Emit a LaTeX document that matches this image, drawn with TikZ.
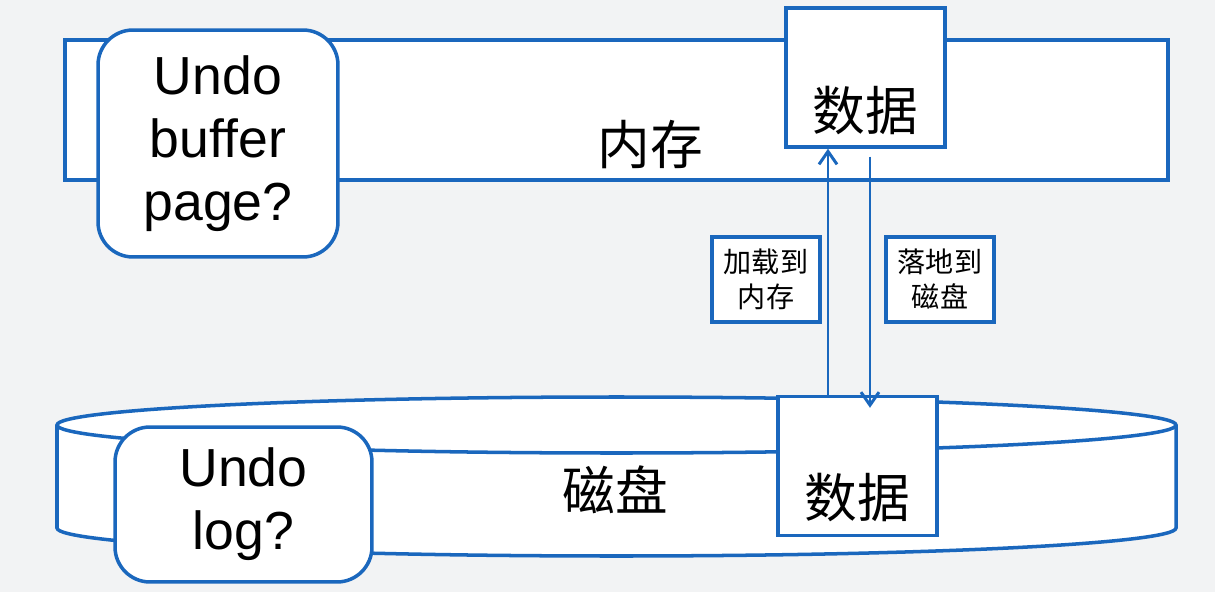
\documentclass[tikz,border=0pt]{standalone}
\usepackage{fontspec}
\setmainfont{Liberation Sans}
\newfontfamily\cjk{Noto Sans CJK SC}
\usetikzlibrary{arrows.meta,calc}
\definecolor{edge}{HTML}{1A67BD}
\definecolor{paper}{HTML}{F2F3F4}
\tikzset{>={Straight Barb[length=2.6mm,width=3.6mm]},
  mem/.style={draw=edge,fill=white,line width=2pt,minimum width=22.06cm,minimum height=2.8cm},
  undo/.style={draw=edge,fill=white,line width=2pt,rounded corners=0.7cm,align=center,
    font=\fontsize{30.5}{36}\selectfont},
  datbox/.style={draw=edge,fill=white,line width=2pt,minimum width=3.18cm,minimum height=2.78cm},
  big/.style={font=\cjk\fontsize{30}{36}\selectfont},
  tag/.style={draw=edge,fill=white,line width=2pt,align=center,inner sep=1pt,
    font=\cjk\fontsize{16}{20}\selectfont,minimum width=2.16cm,minimum height=1.7cm},
  flow/.style={draw=edge,line width=1.7pt,->}}
\begin{document}
\begin{tikzpicture}[x=0.02cm,y=-0.02cm]
  \fill[paper] (0,0) rectangle (1215,592);
  \useasboundingbox (0,0) rectangle (1215,592);
  % memory
  \node[mem] (mem) at (616.5,110) {};
  \node[big] (memlab) at (650,145) {内存};
  \node[undo,minimum width=4.8cm,minimum height=4.54cm] (ubuf) at (218,143.5) {Undo\\buffer\\page?};
  \node[datbox] (memdata) at (865.5,77.5) {};
  \node[big] (memdatalab) at ($(memdata.center)+(0,33)$) {数据};
  % disk
  \draw[edge,fill=white,line width=2pt] (57,425) -- (57,528)
    arc[start angle=180,end angle=0,x radius=559.5,y radius=28] -- (1176,425);
  \draw[edge,fill=white,line width=2pt] (616.5,425) ellipse[x radius=559.5,y radius=28];
  \node[big] (disklab) at (615,490) {磁盘};
  \node[undo,minimum width=5.14cm,minimum height=3.1cm] (ulog) at (243.5,504.5) {Undo\\log?};
  \node[datbox] (dbdata) at (857.5,466) {};
  \node[big] (dbdatalab) at ($(dbdata.center)+(0,32)$) {数据};
  % transfers
  \coordinate (upx) at (828,0);
  \coordinate (downx) at (870,0);
  \draw[flow] (dbdata.north -| upx) -- (memdata.south -| upx);
  \draw[flow] ($(memdata.south -| downx)+(0,8)$) -- ($(dbdata.north -| downx)+(0,13)$);
  \node[tag] (load) at (766,279.5) {加载到\\内存};
  \node[tag] (flush) at (940,279.5) {落地到\\磁盘};
\end{tikzpicture}
\end{document}
